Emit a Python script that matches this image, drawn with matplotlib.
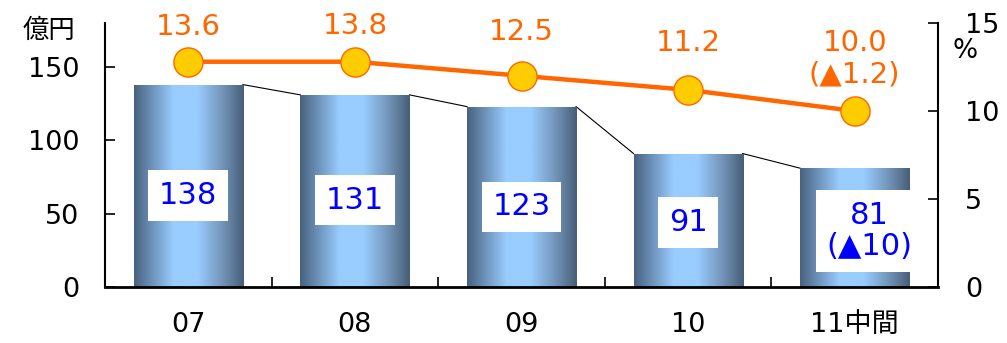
import numpy as np
import matplotlib
matplotlib.use("Agg")
import matplotlib.pyplot as plt
from matplotlib.colors import LinearSegmentedColormap

# data
years = ["07", "08", "09", "10", "11中間"]
sales = [138, 131, 123, 91, 81]               # 億円 (bars, left axis)
sales_labels = ["138", "131", "123", "91", "81\n(▲10)"]
margin = [12.8, 12.8, 12.0, 11.2, 10.0]       # % heights as drawn in the source (right axis)
margin_labels = ["13.6", "13.8", "12.5", "11.2", "10.0\n(▲1.2)"]

plt.rcParams["font.family"] = ["DejaVu Sans", "Noto Sans CJK JP"]

W, H = 1007, 343
fig = plt.figure(figsize=(W / 100, H / 100), dpi=100)
ax = fig.add_axes([105 / W, 1 - 287 / H, (938 - 105) / W, (287 - 23) / H])

x = np.arange(len(years))
bw = 0.655
bars = ax.bar(x, sales, width=bw, color="none", edgecolor="none", zorder=2)

# cylinder-like shading inside each bar
cmap = LinearSegmentedColormap.from_list(
    "cyl", [(0, "#48627F"), (0.36, "#99CCFF"), (0.58, "#99CCFF"),
            (0.8, "#7496BA"), (1, "#465E78")])
grad = np.linspace(0, 1, 256).reshape(1, -1)
for b in bars:
    x0, y0, w, h = b.get_x(), b.get_y(), b.get_width(), b.get_height()
    im = ax.imshow(grad, cmap=cmap, aspect="auto", interpolation="bilinear",
                   extent=[x0, x0 + w, y0, y0 + h], zorder=2)
    im.set_clip_path(b)

# thin connectors between bar tops
for i in range(len(x) - 1):
    ax.plot([x[i] + bw / 2, x[i + 1] - bw / 2], [sales[i], sales[i + 1]],
            color="black", lw=0.8, zorder=1)

# value boxes
label_y = [62.5, 59.3, 54.7, 44.1, 38.0]
label_x = [0, 1, 2, 3, 4.09]
for lx, ly, lab in zip(label_x, label_y, sales_labels):
    ax.text(lx, ly, lab, ha="center", va="center", fontsize=22, color="#0000FF",
            linespacing=1.1, zorder=3,
            bbox=dict(boxstyle="square,pad=0.35", fc="white", ec="none"))

ax.set_xlim(-0.5, 4.5)
ax.set_ylim(0, 180)
ax.set_yticks([0, 50, 100, 150])
ax.set_xticks(x)
ax.set_xticklabels(years)
ax.set_xticks([0.5, 1.5, 2.5, 3.5], minor=True)
ax.tick_params(axis="x", which="major", length=0, pad=18, labelsize=19.5)
ax.tick_params(axis="x", which="minor", direction="in", length=7, width=1.2)
ax.tick_params(axis="y", direction="in", length=7, width=1.2, pad=18.5,
               labelsize=19.5)
ax.spines["top"].set_visible(False)
ax.spines["right"].set_visible(False)
ax.spines["left"].set_linewidth(1.5)
ax.spines["bottom"].set_linewidth(2)

# operating margin line
ax2 = ax.twinx()
ax2.plot(x, margin, color="#FF6600", lw=3.2, marker="o", markersize=21,
         markerfacecolor="#FFCC00", markeredgecolor="#FF6600",
         markeredgewidth=1, zorder=3)
offsets = [25.2, 25.5, 31.4, 33.7, 37.5]
for xi, yi, lab, off in zip(x, margin, margin_labels, offsets):
    ax2.annotate(lab, (xi, yi), xytext=(0, off), textcoords="offset points",
                 ha="center", va="center", fontsize=21, color="#FF6600",
                 linespacing=1.15)
ax2.set_ylim(0, 15)
ax2.set_yticks([0, 5, 10, 15])
ax2.tick_params(axis="y", direction="in", length=7, width=1.2, pad=19.5,
                labelsize=19.5)
for s in ["top", "left", "bottom"]:
    ax2.spines[s].set_visible(False)
ax2.spines["right"].set_linewidth(1.5)

fig.text(49 / W, 1 - 31 / H, "億円", ha="center", va="center", fontsize=19)
fig.text(965 / W, 1 - 51 / H, "%", ha="center", va="center", fontsize=19)

fig.savefig("out.png", dpi=100)
